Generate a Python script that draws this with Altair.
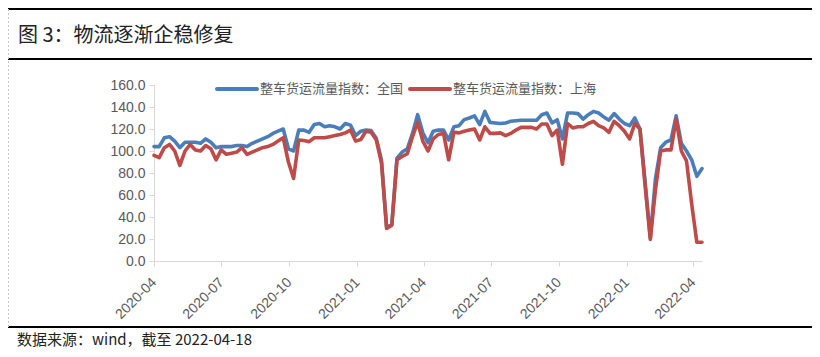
import altair as alt
import pandas as pd

start_date = "2020-04-06"
end_date = "2022-04-18"

national = [104, 104, 112, 113, 109, 103, 108, 108, 108, 107,
            111, 108, 103, 104, 104, 104, 105, 105, 104, 107,
            109, 111, 113, 116, 118, 120, 102, 100, 119, 119,
            117, 124, 125, 122, 123, 122, 120, 125, 123.5, 114,
            118, 119, 118.5, 111.5, 92, 30.5, 33.5, 93.5, 99, 102,
            116, 133, 116.5, 107.5, 118, 119, 119, 110, 122, 123,
            128.5, 130, 132, 124, 136, 126, 125.5, 125, 125.5, 127,
            127.5, 128, 128, 128, 128, 133, 134.5, 125.5, 128.5, 111,
            134.5, 134.5, 134, 129, 133, 136, 134.5, 131, 128, 134,
            129, 125, 123, 130, 120, 72, 21, 75, 103, 108,
            110, 132, 107, 100, 92, 77, 84]

shanghai = [96, 94, 103, 106, 100, 87, 100, 106, 101, 100,
            105, 102, 92, 101, 97, 98, 99, 103, 97, 99,
            101, 103, 104, 106, 109, 112, 90, 75, 110, 109.5,
            108.5, 112, 112, 112, 113, 114, 115, 116.5, 119, 109,
            110.5, 118, 117, 110, 89, 29.5, 32.5, 92, 95, 97.5,
            113, 126, 109, 100, 111, 115, 116, 92, 117, 116.5,
            118, 119, 120, 110, 122, 116, 116, 116.5, 114, 116,
            119, 121.5, 121.5, 121.5, 120, 124.5, 124.5, 114, 119, 88,
            125, 121, 122, 122, 125, 127, 123, 121, 117, 127,
            123, 118, 111, 125, 120, 68, 19.7, 65, 100, 101,
            101, 129, 100, 91, 52, 17, 17]

series_names = ["整车货运流量指数：全国", "整车货运流量指数：上海"]
series_colors = ["#4A7EBB", "#BE4B48"]
y_ticks = [0, 20, 40, 60, 80, 100, 120, 140, 160]
x_tick_dates = ["2020-04-06", "2020-07-06", "2020-10-06", "2021-01-06",
                "2021-04-06", "2021-07-06", "2021-10-06", "2022-01-06",
                "2022-04-06"]
title_text = "图 3：物流逐渐企稳修复"
source_text = "数据来源：wind，截至 2022-04-18"

FONT = "Liberation Sans, Noto Sans CJK SC, sans-serif"
CJK = "Noto Sans CJK SC, sans-serif"


def dt(s):
    y, m, d = (int(p) for p in s.split("-"))
    return alt.DateTime(year=y, month=m, date=d)


dates = pd.date_range(start_date, periods=len(national), freq="7D")
df = pd.concat([
    pd.DataFrame({"date": dates, "value": national, "series": series_names[0]}),
    pd.DataFrame({"date": dates, "value": shanghai, "series": series_names[1]}),
], ignore_index=True)

W, H = 548, 176
PAD_L, PAD_T = 146, 77
TOTAL_W, TOTAL_H = 804, 341

x_enc = alt.X(
    "date:T",
    title=None,
    scale=alt.Scale(domain=[dt(start_date), dt(end_date)]),
    axis=alt.Axis(values=[dt(s) for s in x_tick_dates], format="%Y-%m",
                  labelAngle=-45, labelAlign="right", labelBaseline="middle",
                  labelPadding=14, labelFontSize=14, labelColor="#595959",
                  labelFont=FONT, domainColor="#d9d9d9", tickColor="#d9d9d9",
                  tickSize=5, grid=False, labelOverlap=False),
)
y_enc = alt.Y(
    "value:Q",
    title=None,
    scale=alt.Scale(domain=[0, 160], nice=False, zero=True),
    axis=alt.Axis(values=y_ticks, format=".1f", labelFontSize=14,
                  labelColor="#595959", labelFont=FONT, labelPadding=4,
                  domainColor="#d9d9d9", tickColor="#d9d9d9", tickSize=5,
                  grid=False),
)
color_enc = alt.Color(
    "series:N",
    scale=alt.Scale(domain=series_names, range=series_colors),
    legend=None,
)

base = alt.Chart(df)
line_nat = base.transform_filter(alt.datum.series == series_names[0]).mark_line(
    strokeWidth=3.6, strokeJoin="round", strokeCap="round"
).encode(x=x_enc, y=y_enc, color=color_enc)
line_sh = base.transform_filter(alt.datum.series == series_names[1]).mark_line(
    strokeWidth=3.6, strokeJoin="round", strokeCap="round"
).encode(x=x_enc, y=y_enc, color=color_enc)

one = alt.Data(values=[{"k": 0}])


def hrule(y, color="#000000", width=2.0):
    return alt.Chart(one).mark_rule(color=color, strokeWidth=width).encode(
        x=alt.value(-PAD_L), x2=alt.value(TOTAL_W - PAD_L), y=alt.value(y))


top_line = hrule(-76)
mid_line = hrule(-26)
bot_line = hrule(242)
left_border = alt.Chart(one).mark_rule(color="#c8c8c8", strokeWidth=1,
                                       strokeDash=[2, 2]).encode(
    x=alt.value(-PAD_L + 0.5), y=alt.value(-76), y2=alt.value(242))

title = alt.Chart(one).mark_text(
    text=title_text, align="left", baseline="middle", fontSize=20,
    font=CJK, color="#222222").encode(x=alt.value(-136), y=alt.value(-49))
footer = alt.Chart(one).mark_text(
    text=source_text, align="left", baseline="middle", fontSize=15,
    font=CJK, color="#222222").encode(x=alt.value(-137), y=alt.value(255))

# legend (manual, to match the reference spacing)
LEG_Y = 4
leg_items = []
leg_x = [(63, 103, 106), (256, 296, 299)]
for name, colr, (x1, x2, xt) in zip(series_names, series_colors, leg_x):
    leg_items.append(alt.Chart(one).mark_rule(
        color=colr, strokeWidth=4, strokeCap="round").encode(
        x=alt.value(x1), x2=alt.value(x2), y=alt.value(LEG_Y)))
    leg_items.append(alt.Chart(one).mark_text(
        text=name, align="left", baseline="middle", fontSize=13,
        font=CJK, color="#595959").encode(x=alt.value(xt), y=alt.value(LEG_Y)))

chart = alt.layer(
    top_line, mid_line, bot_line, left_border, title, footer,
    line_nat, line_sh, *leg_items
).properties(
    width=W, height=H,
    autosize=alt.AutoSizeParams(type="none"),
    padding={"left": PAD_L, "top": PAD_T,
             "right": TOTAL_W - PAD_L - W, "bottom": TOTAL_H - PAD_T - H},
    background="white",
).configure_view(stroke=None)

chart.save("out.html", embed_options={"renderer": "svg", "actions": False})
